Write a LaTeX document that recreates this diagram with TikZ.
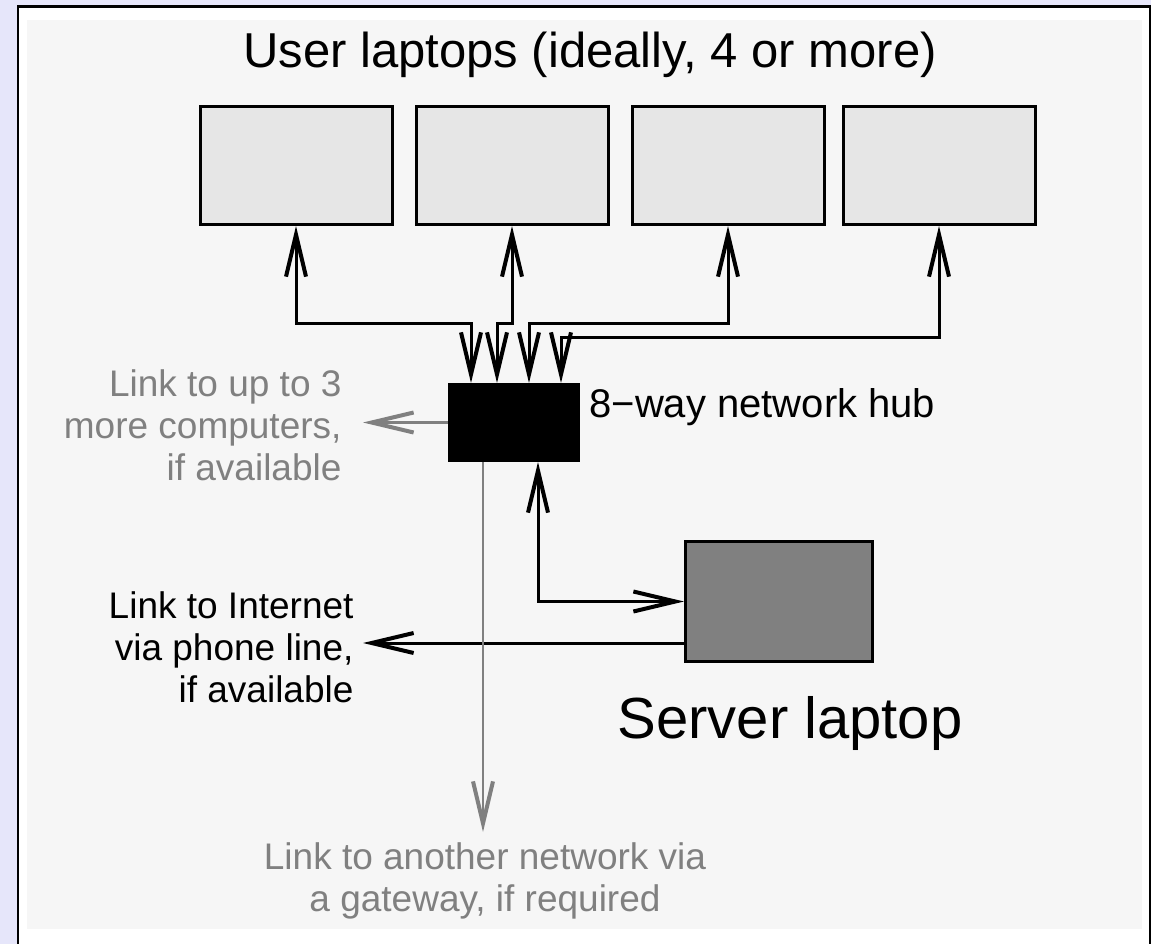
\documentclass[tikz,border=0pt]{standalone}
\usepackage{fontspec}
\setmainfont{Liberation Sans}
\usetikzlibrary{arrows.meta}
\definecolor{lavenderbg}{RGB}{230,230,250}
\definecolor{paper}{RGB}{246,246,246}
\definecolor{laptopgrey}{RGB}{230,230,230}
\definecolor{servergrey}{RGB}{128,128,128}
\definecolor{linkgrey}{RGB}{128,128,128}
\begin{document}
\begin{tikzpicture}[x=1pt,y=-1pt,inner sep=0,line width=3pt,
		>={Straight Barb[length=42pt,width=20pt,line width=4pt]},
		laptop/.style={draw,fill=laptopgrey,minimum width=192pt,minimum height=118pt},
		greylink/.style={draw=linkgrey,line width=2.5pt},
		note/.style={font=\fontsize{37}{42}\selectfont}]
		\useasboundingbox (0,0) rectangle (1151,944);
		\fill[lavenderbg] (0,0) rectangle (1151,944);
		\draw[fill=white,line width=2.5pt] (18,6.5) rectangle (1150,960);
		\fill[paper] (27,20) rectangle (1142,929);
		% laptops and hub
		\node[font=\fontsize{49}{56}\selectfont,anchor=base] (title) at (590,68) {User laptops (ideally, 4 or more)};
		\node[laptop] (user1) at (296,165.5) {};
		\node[laptop] (user2) at (512,165.5) {};
		\node[laptop] (user3) at (728,165.5) {};
		\node[laptop] (user4) at (939,165.5) {};
		\node[draw,fill=black,minimum width=129pt,minimum height=76pt] (hub) at (514,422.5) {};
		\node[font=\fontsize{40}{46}\selectfont,anchor=base west] (hublabel) at (588,417) {8−way network hub};
		\node[draw,fill=servergrey,minimum width=187pt,minimum height=120pt] (server) at (779,601.5) {};
		\node[font=\fontsize{58}{66}\selectfont,anchor=base] (serverlabel) at (790,738) {Server laptop};
		% side notes
		\node[note,text=linkgrey,align=right,anchor=north east] (more) at (343,368) {Link to up to 3\\more computers,\\if available};
		\node[note,align=right,anchor=north east] (internet) at (355,590) {Link to Internet\\via phone line,\\if available};
		\node[note,text=linkgrey,align=center,anchor=north] (gate) at (485,841) {Link to another network via\\a gateway, if required};
		\coordinate (h1) at ([xshift=-43pt]hub.north);
		\coordinate (h2) at ([xshift=-17pt]hub.north);
		\coordinate (h3) at ([xshift=15pt]hub.north);
		\coordinate (h4) at ([xshift=47pt]hub.north);
		\coordinate (moretip) at (363,422.5);
		\coordinate (inettip) at (363,643);
		\coordinate (gatetip) at (483,832);
		% links
		\draw[<->] (h1) -- ++(0,-60) -| (user1.south);
		\draw[<->] (h2) -- ++(0,-60) -| (user2.south);
		\draw[<->] (h3) -- ++(0,-60) -| (user3.south);
		\draw[<->] (h4) -- ++(0,-46) -| (user4.south);
		\draw[<->] ([xshift=24pt]hub.south) |- (server.west);
		\draw[->] ([yshift=20pt]server.south west) -- (inettip);
		\draw[greylink,->] (hub.west) -- (moretip);
		\draw[greylink,->] ([xshift=-31pt]hub.south) -- (gatetip);
	\end{tikzpicture}
\end{document}
